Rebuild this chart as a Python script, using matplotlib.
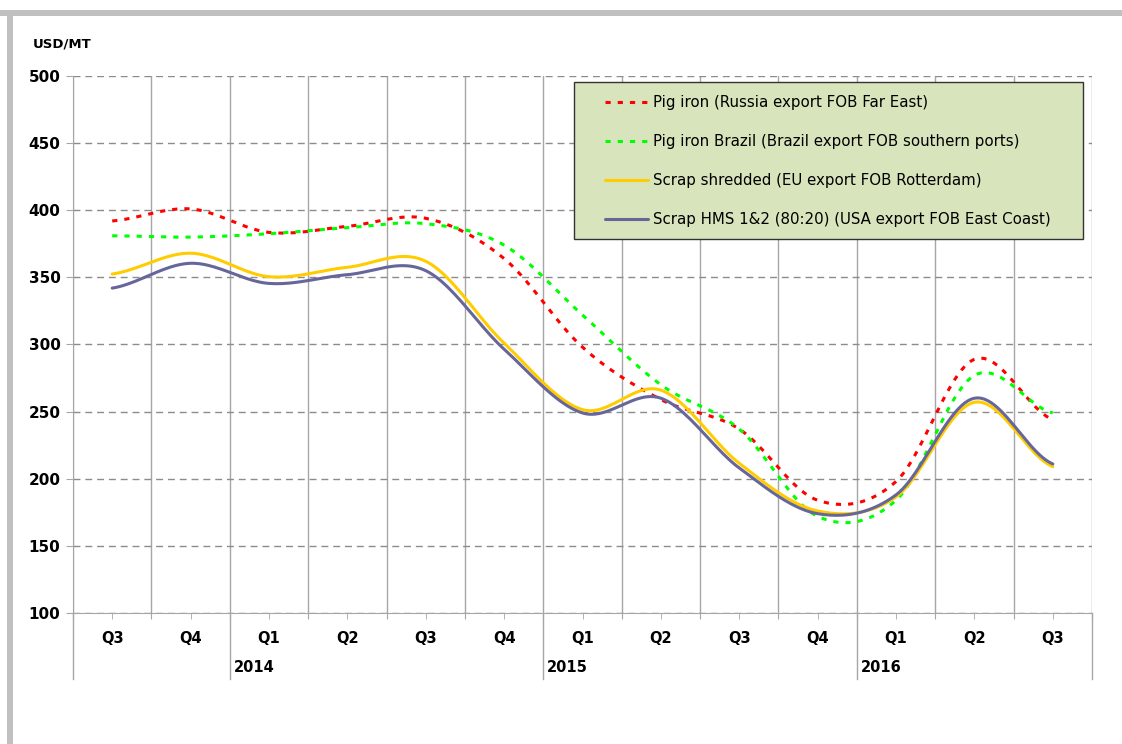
"""Quarterly pig iron and scrap export prices, Q3 2013 to Q3 2016 (USD/MT)."""

import matplotlib

matplotlib.use("Agg")
import matplotlib.pyplot as plt
import matplotlib.transforms as mtransforms
import numpy as np
from matplotlib.patches import Rectangle

quarters = ["Q3", "Q4", "Q1", "Q2", "Q3", "Q4", "Q1", "Q2", "Q3", "Q4", "Q1", "Q2", "Q3"]
years = ["2014", "2015", "2016"]
year_starts = [2, 6, 10]  # index of the first quarter of each labelled year

pig_russia = [392, 401, 383.5, 388, 394, 364, 298, 259, 237, 184, 198, 289, 244]
pig_brazil = [381, 380, 382.5, 387, 390, 374, 322, 270, 237, 172, 184, 277, 249]
scrap_eu = [352.5, 368, 350.5, 357.5, 362, 301, 251.5, 266, 211.5, 176, 186.5, 257, 209]
scrap_usa = [342, 360.5, 345.5, 352, 355, 296.5, 249, 260, 208, 174, 188, 260, 211]

series = [
    ("Pig iron (Russia export FOB Far East)", pig_russia, "#ff0000", (0, (1.7, 2.3))),
    ("Pig iron Brazil (Brazil export FOB southern ports)", pig_brazil, "#00ff00", (0, (1.7, 2.3))),
    ("Scrap shredded (EU export FOB Rotterdam)", scrap_eu, "#ffcc00", "-"),
    ("Scrap HMS 1&2 (80:20) (USA export FOB East Coast)", scrap_usa, "#66669a", "-"),
]


def _smooth(y, steps=24):
    """Excel-style smoothed line: Catmull-Rom through every point."""
    y = np.asarray(y, dtype=float)
    p = np.concatenate([[y[0]], y, [y[-1]]])
    xs, ys = [], []
    t = np.linspace(0, 1, steps, endpoint=False)
    for i in range(len(y) - 1):
        p0, p1, p2, p3 = p[i], p[i + 1], p[i + 2], p[i + 3]
        seg = 0.5 * ((2 * p1) + (-p0 + p2) * t + (2 * p0 - 5 * p1 + 4 * p2 - p3) * t ** 2
                     + (-p0 + 3 * p1 - 3 * p2 + p3) * t ** 3)
        xs.append(i + t)
        ys.append(seg)
    xs.append([len(y) - 1])
    ys.append([y[-1]])
    return np.concatenate(xs), np.concatenate(ys)


W, H = 1122, 744
fig = plt.figure(figsize=(W / 100, H / 100), dpi=100)
fig.patch.set_facecolor("white")

# grey frame strips along the top and left edge
fig.patches.append(Rectangle((0, 1 - 16 / H), 1, 6 / H, transform=fig.transFigure,
                             facecolor="#c0c0c0", edgecolor="none"))
fig.patches.append(Rectangle((7 / W, 0), 6 / W, 1 - 10 / H, transform=fig.transFigure,
                             facecolor="#c0c0c0", edgecolor="none"))

ax = fig.add_axes([73 / W, (H - 613) / H, 1019 / W, 537 / H])
n = len(quarters)
ax.set_xlim(-0.5, n - 0.5)
ax.set_ylim(100, 500)

for label, vals, color, ls in series:
    xs, ys = _smooth(vals)
    ax.plot(xs, ys, color=color, lw=2.2, ls=ls, label=label, solid_capstyle="round")

grid_grey = "#a6a6a6"
ax.set_yticks(np.arange(100, 501, 50))
ax.yaxis.grid(True, color="#8c8c8c", lw=1.0, ls=(0, (5, 3.5)))
ax.set_xticks(np.arange(-0.5, n, 1.0))
ax.set_xticks(np.arange(n), minor=True)
ax.xaxis.grid(True, which="major", color=grid_grey, lw=1.0)
ax.set_axisbelow(True)
ax.tick_params(axis="x", which="both", length=4, color=grid_grey, labelbottom=False)
ax.tick_params(axis="y", length=5, color=grid_grey, labelsize=11, pad=4)
for t in ax.get_yticklabels():
    t.set_fontweight("bold")
for side in ("top", "right"):
    ax.spines[side].set_visible(False)
for side in ("left", "bottom"):
    ax.spines[side].set_color(grid_grey)

# multi-level category axis
trans = mtransforms.blended_transform_factory(ax.transData, ax.transAxes)
for i, q in enumerate(quarters):
    ax.text(i, -0.047, q, transform=trans, ha="center", va="center",
            fontsize=10.5, fontweight="bold")
for xb in [-0.5] + [s - 0.5 for s in year_starts] + [n - 0.5]:
    ax.plot([xb, xb], [0, -0.123], transform=trans, color=grid_grey, lw=1.0, clip_on=False)
for s, yr in zip(year_starts, years):
    ax.text(s - 0.45, -0.102, yr, transform=trans, ha="left", va="center",
            fontsize=10.5, fontweight="bold")

fig.text(33 / W, 1 - 44 / H, "USD/MT", ha="left", va="center", fontsize=9.5, fontweight="bold")

# legend: filled box drawn separately so the padding can be wider than tall
ax.add_patch(Rectangle((574 / W, 1 - 239 / H), (1083 - 574) / W, (239 - 82) / H,
                       transform=fig.transFigure, facecolor="#d8e4bc",
                       edgecolor="#333333", lw=1.0, zorder=3, clip_on=False))
leg = ax.legend(loc="upper left", bbox_to_anchor=(605 / W, 1 - 95 / H),
                bbox_transform=fig.transFigure, borderaxespad=0, borderpad=0,
                frameon=False, fontsize=10.8, handlelength=2.85, handletextpad=0.33,
                labelspacing=1.6)
leg.set_zorder(4)

fig.savefig("out.png", dpi=100)
